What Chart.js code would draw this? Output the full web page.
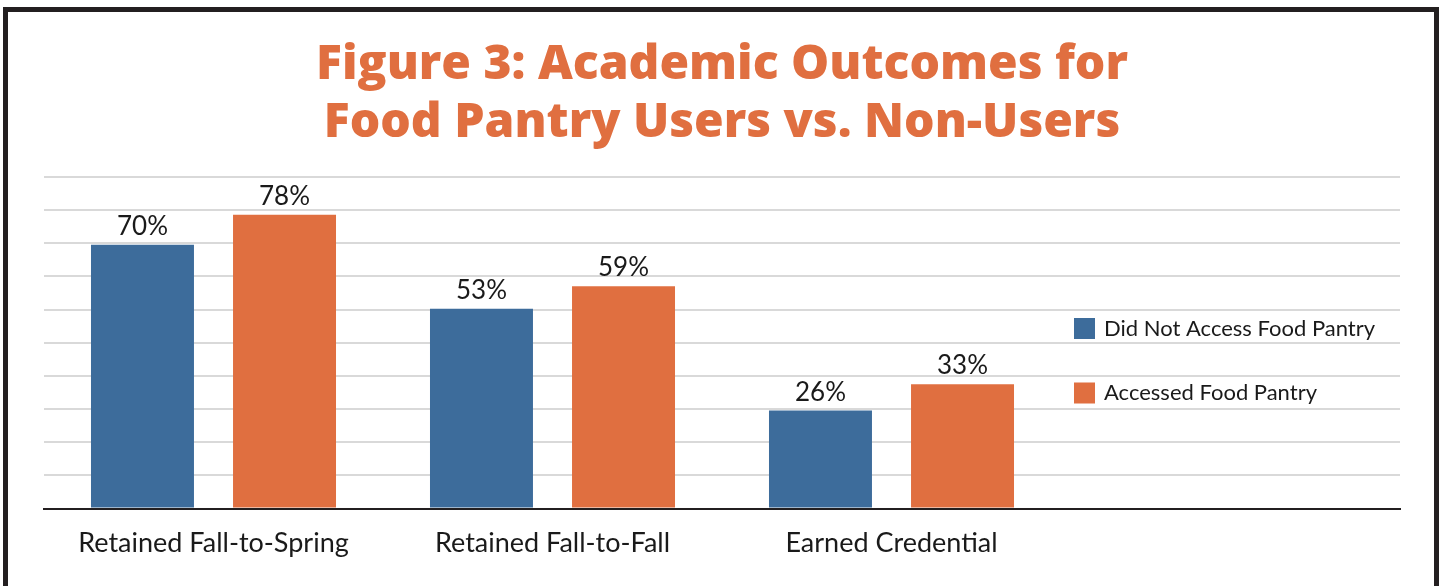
<!DOCTYPE html>
<html>
<head>
<meta charset="utf-8">
<script src="https://cdn.jsdelivr.net/npm/chart.js@4"></script>
<style>
	html, body { margin: 0; padding: 0; background: #fff; }
	#frame {
		position: absolute; left: 3px; top: 7px; width: 1426px; height: 600px;
		border: 5px solid #231f20;
	}
	#wrap { position: absolute; left: 0; top: 0; width: 1443px; height: 586px; overflow: hidden; }
	canvas { position: absolute; left: 0; top: 0; }
</style>
</head>
<body>
<div id="wrap">
	<div id="frame"></div>
	<canvas id="outcomes" width="1443" height="586"></canvas>
</div>
<script>
// chart data
const categories = ["Retained Fall-to-Spring", "Retained Fall-to-Fall", "Earned Credential", ""];
const seriesNames = ["Did Not Access Food Pantry", "Accessed Food Pantry"];
const didNotAccess = [70, 53, 26, null];
const accessed = [78, 59, 33, null];
const titleLines = ["Figure 3: Academic Outcomes for", "Food Pantry Users vs. Non-Users"];

const BLUE = "#3d6c9b";
const ORANGE = "#e06f40";
const TEXT = "#1a1a1a";

// value labels above each bar
const barLabels = {
	id: "barLabels",
	afterDatasetsDraw(chart) {
		const { ctx } = chart;
		ctx.save();
		ctx.font = "26px Lato";
		ctx.fillStyle = TEXT;
		ctx.textAlign = "center";
		ctx.textBaseline = "alphabetic";
		chart.data.datasets.forEach((ds, i) => {
			chart.getDatasetMeta(i).data.forEach((bar, j) => {
				const v = ds.data[j];
				if (v == null) return;
				ctx.fillText(v + "%", bar.x, bar.y - 10);
			});
		});
		ctx.restore();
	},
};

// legend drawn inside the plot, on the right
const innerLegend = {
	id: "innerLegend",
	afterDraw(chart, args, opts) {
		const { ctx } = chart;
		ctx.save();
		ctx.font = "22px Lato";
		ctx.textBaseline = "middle";
		ctx.textAlign = "left";
		chart.data.datasets.forEach((ds, i) => {
			const cy = opts.y[i];
			ctx.fillStyle = ds.backgroundColor;
			ctx.fillRect(opts.x, cy - 10.5, 21, 21);
			ctx.fillStyle = TEXT;
			ctx.fillText(ds.label, opts.x + 30, cy);
		});
		ctx.restore();
	},
};

const ctx = document.getElementById("outcomes").getContext("2d");
new Chart(ctx, {
	type: "bar",
	data: {
		labels: categories,
		datasets: [
			{ label: seriesNames[0], data: didNotAccess, backgroundColor: BLUE },
			{ label: seriesNames[1], data: accessed, backgroundColor: ORANGE },
		],
	},
	options: {
		responsive: false,
		animation: false,
		categoryPercentage: 0.838,
		barPercentage: 0.725,
		layout: { padding: { left: 44, right: 43, top: 0, bottom: 9 } },
		plugins: {
			legend: { display: false },
			tooltip: { enabled: false },
			title: {
				display: true,
				text: titleLines,
				color: ORANGE,
				font: { family: "Open Sans", size: 48, weight: "800", lineHeight: 1.208 },
				padding: { top: 36, bottom: 25 },
			},
			innerLegend: { x: 1074, y: [328.5, 393] },
		},
		scales: {
			x: {
				grid: { display: false, drawTicks: false },
				border: { color: "#231f20", width: 2 },
				ticks: { color: TEXT, font: { family: "Lato", size: 27 }, padding: 18 },
			},
			y: {
				min: 0,
				max: 88,
				ticks: { display: false, count: 11 },
				border: { display: false },
				grid: {
					drawTicks: false,
					lineWidth: 2,
					color: (c) => (c.tick && c.tick.value === 0 ? "rgba(0,0,0,0)" : "#d9d9d9"),
				},
			},
		},
	},
	plugins: [barLabels, innerLegend],
});
</script>
</body>
</html>
